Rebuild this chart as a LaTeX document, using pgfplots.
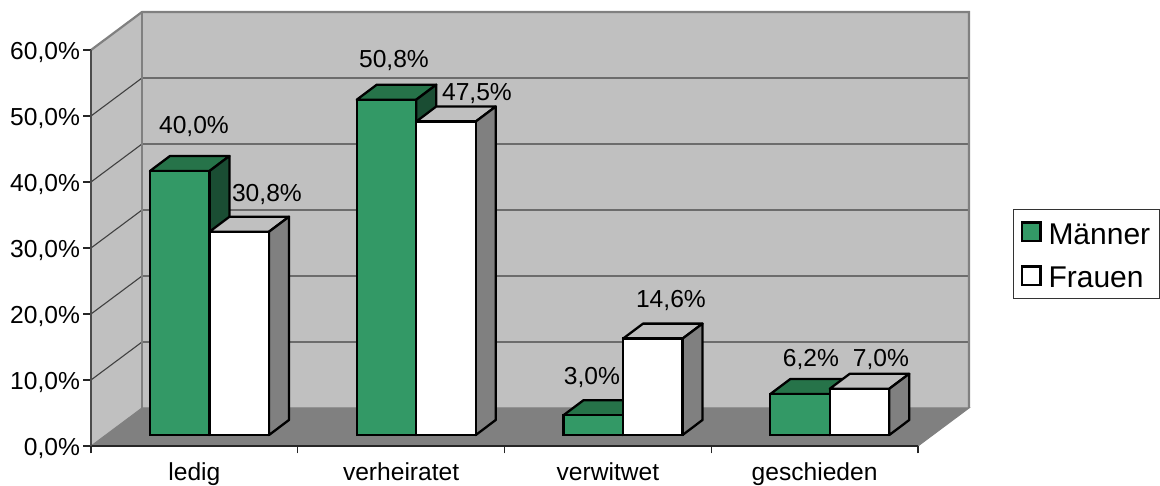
\documentclass[border=0pt]{standalone}
\usepackage{fontspec}
\setmainfont{Liberation Sans}
\usepackage{pgfplots}
\pgfplotsset{compat=1.18}
\definecolor{men}{HTML}{339966}
\definecolor{mentop}{HTML}{267349}
\definecolor{menside}{HTML}{1A4D33}
\definecolor{womentop}{HTML}{C0C0C0}
\definecolor{womenside}{HTML}{808080}
\definecolor{wall}{HTML}{C0C0C0}
\definecolor{floorc}{HTML}{808080}
\definecolor{gridc}{HTML}{404040}
% #1 left edge, #2 right edge, #3 value, #4 top colour, #5 side colour
\newcommand{\barfaces}[5]{%
  \pgfmathsetmacro\ya{#3+1.6667}%
  \pgfmathsetmacro\yb{#3+1.6667+2.2727}%
  \pgfmathsetmacro\xa{#1+0.0967}%
  \pgfmathsetmacro\xb{#2+0.0967}%
  \edef\tmp{\noexpand\addplot[forget plot,fill=#4,draw=black,line width=2.3pt,line join=round] coordinates {(#1,\ya)(#2,\ya)(\xb,\yb)(\xa,\yb)} -- cycle;
  \noexpand\addplot[forget plot,fill=#5,draw=black,line width=2.3pt,line join=round] coordinates {(#2,\ya)(\xb,\yb)(\xb,3.9394)(#2,1.6667)} -- cycle;}%
  \tmp}
\newcommand{\lab}[3]{\node[anchor=base,font=\fontsize{24.6}{28}\selectfont] at (axis cs:#1,#2) {#3};}
\begin{document}
\begin{tikzpicture}
\useasboundingbox (-91pt,-40pt) rectangle (1069pt,446pt);
\begin{axis}[
  scale only axis, width=827pt, height=396pt,
  xmin=0, xmax=4, ymin=0, ymax=60, clip=false,
  axis x line*=bottom, axis y line*=left,
  x axis line style={-, draw=black!85, line width=1.2pt},
  y axis line style={-, draw=black!70, line width=1.8pt},
  axis on top=true,
  tick align=outside, major tick length=7.5pt,
  tick style={draw=black!85, line width=1.2pt},
  xtick={0,1,2,3,4}, x tick label as interval,
  xticklabels={ledig,verheiratet,verwitwet,geschieden},
  ytick={0,10,20,30,40,50,60},
  yticklabels={{0,0\%},{10,0\%},{20,0\%},{30,0\%},{40,0\%},{50,0\%},{60,0\%}},
  tick label style={font=\fontsize{24.6}{28}\selectfont},
  xticklabel style={anchor=base, yshift=-27.5pt},
  yticklabel style={yshift=-2.7pt},
  legend style={at={(axis cs:4.4595,35.91)}, anchor=north west, draw=black!80, line width=1pt,
    inner xsep=7pt, inner ysep=7pt, row sep=17.5pt,
    /tikz/every odd column/.append style={column sep=5pt},
    font=\fontsize{30}{34}\selectfont, legend cell align=left},
]
% walls and floor
\addplot[forget plot,fill=wall,draw=none] coordinates {(0.2467,5.7576)(4.2467,5.7576)(4.2467,65.7576)(0.2467,65.7576)} -- cycle;
\addplot[forget plot,fill=wall,draw=none] coordinates {(0,0)(0.2467,5.7576)(0.2467,65.7576)(0,60)} -- cycle;
\addplot[forget plot,fill=floorc,draw=floorc,line width=1pt] coordinates {(0,0)(0.2467,5.7576)(4.2467,5.7576)(4,0)} -- cycle;
% grid
\addplot[forget plot,draw=gridc,line width=1.1pt] coordinates {(0,10)(0.2467,15.7576)(4.2467,15.7576)};
\addplot[forget plot,draw=gridc,line width=1.1pt] coordinates {(0,20)(0.2467,25.7576)(4.2467,25.7576)};
\addplot[forget plot,draw=gridc,line width=1.1pt] coordinates {(0,30)(0.2467,35.7576)(4.2467,35.7576)};
\addplot[forget plot,draw=gridc,line width=1.1pt] coordinates {(0,40)(0.2467,45.7576)(4.2467,45.7576)};
\addplot[forget plot,draw=gridc,line width=1.1pt] coordinates {(0,50)(0.2467,55.7576)(4.2467,55.7576)};
% wall edges
\addplot[forget plot,draw=floorc,line width=2.2pt] coordinates {(0,60)(0.2467,65.7576)(4.2467,65.7576)(4.2467,5.7576)};
\addplot[forget plot,draw=floorc,line width=2.2pt] coordinates {(0.2467,65.7576)(0.2467,5.7576)};
% Maenner
\barfaces{0.2854}{0.5732}{40.0}{mentop}{menside}
\barfaces{1.2854}{1.5732}{50.8}{mentop}{menside}
\barfaces{2.2854}{2.5732}{3.0}{mentop}{menside}
\barfaces{3.2854}{3.5732}{6.2}{mentop}{menside}
\addplot[ybar,bar width=59.5pt,bar shift=-14.6pt,shift={(0pt,11pt)},fill=men,draw=black,line width=2.3pt,
  legend image code/.code={\path (0pt,6pt); \draw[fill=men,draw=black,line width=2.4pt] (0pt,-17.5pt) rectangle (18.6pt,1pt);}]
  coordinates {(0.5,40.0)(1.5,50.8)(2.5,3.0)(3.5,6.2)};
\addlegendentry{Männer}
% Frauen
\barfaces{0.5732}{0.8610}{30.8}{womentop}{womenside}
\barfaces{1.5732}{1.8610}{47.5}{womentop}{womenside}
\barfaces{2.5732}{2.8610}{14.6}{womentop}{womenside}
\barfaces{3.5732}{3.8610}{7.0}{womentop}{womenside}
\addplot[ybar,bar width=59.5pt,bar shift=44.9pt,shift={(0pt,11pt)},fill=white,draw=black,line width=2.3pt,
  legend image code/.code={\draw[fill=white,draw=black,line width=2.4pt] (0pt,-17.5pt) rectangle (18.6pt,1pt);}]
  coordinates {(0.5,30.8)(1.5,47.5)(2.5,14.6)(3.5,7.0)};
\addlegendentry{Frauen}
% value labels
\lab{0.498}{47.34}{40,0\%}
\lab{0.851}{37.04}{30,8\%}
\lab{1.4655}{57.34}{50,8\%}
\lab{1.867}{52.34}{47,5\%}
\lab{2.423}{9.31}{3,0\%}
\lab{2.805}{20.98}{14,6\%}
\lab{3.482}{12.04}{6,2\%}
\lab{3.821}{12.04}{7,0\%}
\end{axis}
\end{tikzpicture}
\end{document}
